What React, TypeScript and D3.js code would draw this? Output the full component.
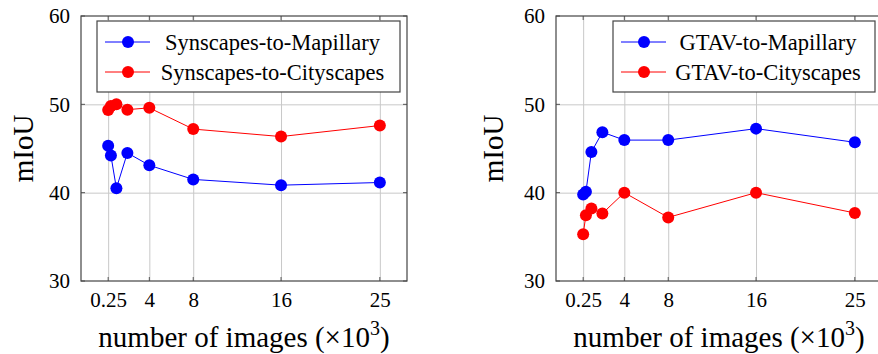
import { useRef, useEffect } from "react";
import * as d3 from "d3";

const xValues = [0.25, 0.5, 1, 2, 4, 8, 16, 25];
const xTicks = [0.25, 4, 8, 16, 25];
const yTicks = [30, 40, 50, 60];

const synMapillary = [45.3, 44.2, 40.5, 44.5, 43.1, 41.5, 40.85, 41.15];
const synCityscapes = [49.35, 49.8, 50.0, 49.4, 49.6, 47.2, 46.35, 47.6];
const gtaMapillary = [39.8, 40.1, 44.6, 46.85, 45.95, 45.95, 47.25, 45.7];
const gtaCityscapes = [35.3, 37.45, 38.2, 37.65, 40.0, 37.2, 40.0, 37.7];

const panels = [
  {
    left: 81,
    ylabelX: 33,
    series: [
      { name: "Synscapes-to-Mapillary", color: "#0000ff", values: synMapillary },
      { name: "Synscapes-to-Cityscapes", color: "#ff0000", values: synCityscapes },
    ],
    legend: { x: 97, w: 303 },
  },
  {
    left: 556,
    ylabelX: 503,
    series: [
      { name: "GTAV-to-Mapillary", color: "#0000ff", values: gtaMapillary },
      { name: "GTAV-to-Cityscapes", color: "#ff0000", values: gtaCityscapes },
    ],
    legend: { x: 613, w: 262 },
  },
];

const FONT = "Liberation Serif, DejaVu Serif, serif";

export default function App() {
  const svgRef = useRef<SVGSVGElement>(null);

  useEffect(() => {
    if (!svgRef.current) return;
    const svg = d3.select(svgRef.current);
    svg.selectAll("*").remove();

    const top = 16;
    const bottom = 281;
    const innerW = 326;

    const y = d3.scaleLinear().domain([30, 60]).range([bottom, top]);

    panels.forEach((p) => {
      const x = d3
        .scaleLinear()
        .domain([-2.225, 27.475])
        .range([p.left, p.left + innerW]);
      const g = svg.append("g");

      // Grid
      g.append("g")
        .attr("transform", `translate(0,${bottom})`)
        .call(d3.axisBottom(x).tickValues(xTicks).tickSize(-(bottom - top)).tickFormat(() => ""))
        .call((g) => g.select(".domain").remove())
        .call((g) => g.selectAll(".tick line").attr("stroke", "#c8c8c8").attr("stroke-width", 1));
      g.append("g")
        .attr("transform", `translate(${p.left},0)`)
        .call(d3.axisLeft(y).tickValues([40, 50]).tickSize(-innerW).tickFormat(() => ""))
        .call((g) => g.select(".domain").remove())
        .call((g) => g.selectAll(".tick line").attr("stroke", "#c8c8c8").attr("stroke-width", 1));

      // inner tick marks
      const tk = g.append("g").attr("stroke", "#555").attr("stroke-width", 1);
      xTicks.forEach((t) => {
        tk.append("line").attr("x1", x(t)).attr("x2", x(t)).attr("y1", bottom).attr("y2", bottom - 4);
        tk.append("line").attr("x1", x(t)).attr("x2", x(t)).attr("y1", top).attr("y2", top + 4);
      });
      yTicks.forEach((t) => {
        tk.append("line").attr("x1", p.left).attr("x2", p.left + 4).attr("y1", y(t)).attr("y2", y(t));
        tk.append("line").attr("x1", p.left + innerW).attr("x2", p.left + innerW - 4).attr("y1", y(t)).attr("y2", y(t));
      });

      // X tick labels
      g.append("g")
        .attr("transform", `translate(0,${bottom})`)
        .call(d3.axisBottom(x).tickValues(xTicks).tickSize(0).tickPadding(11).tickFormat((d) => String(d)))
        .call((g) => g.select(".domain").remove())
        .call((g) =>
          g.selectAll(".tick text").attr("fill", "#000").style("font-size", "21px").style("font-family", FONT)
        );

      // Y tick labels
      g.append("g")
        .attr("transform", `translate(${p.left},0)`)
        .call(d3.axisLeft(y).tickValues(yTicks).tickSize(0).tickPadding(11))
        .call((g) => g.select(".domain").remove())
        .call((g) =>
          g.selectAll(".tick text").attr("fill", "#000").style("font-size", "21px").style("font-family", FONT)
        );

      // Series
      const line = d3
        .line<number>()
        .x((_, i) => x(xValues[i]))
        .y((d) => y(d));
      p.series.forEach((s) => {
        g.append("path")
          .datum(s.values)
          .attr("fill", "none")
          .attr("stroke", s.color)
          .attr("stroke-width", 1)
          .attr("d", line);
        g.selectAll(null)
          .data(s.values)
          .enter()
          .append("circle")
          .attr("cx", (_, i) => x(xValues[i]))
          .attr("cy", (d) => y(d))
          .attr("r", 6)
          .attr("fill", s.color);
      });

      // Axis box
      g.append("rect")
        .attr("x", p.left)
        .attr("y", top)
        .attr("width", innerW)
        .attr("height", bottom - top)
        .attr("fill", "none")
        .attr("stroke", "#444")
        .attr("stroke-width", 1.2);

      // Legend
      const lg = g.append("g");
      lg.append("rect")
        .attr("x", p.legend.x)
        .attr("y", 21)
        .attr("width", p.legend.w)
        .attr("height", 71)
        .attr("fill", "#fff")
        .attr("stroke", "#444")
        .attr("stroke-width", 1.2);
      p.series.forEach((s, i) => {
        const ly = 42 + i * 30;
        const lx = p.legend.x;
        lg.append("line")
          .attr("x1", lx + 8)
          .attr("x2", lx + 53)
          .attr("y1", ly)
          .attr("y2", ly)
          .attr("stroke", s.color)
          .attr("stroke-width", 1);
        lg.append("circle").attr("cx", lx + 31).attr("cy", ly).attr("r", 6).attr("fill", s.color);
        lg.append("text")
          .attr("x", (lx + 60 + lx + p.legend.w - 12) / 2)
          .attr("y", ly)
          .attr("dy", "0.35em")
          .attr("text-anchor", "middle")
          .style("font-size", "22.5px")
          .style("font-family", FONT)
          .text(s.name);
      });

      // Axis labels
      const xl = g
        .append("text")
        .attr("x", p.left + innerW / 2)
        .attr("y", 347)
        .attr("text-anchor", "middle")
        .style("font-size", "29px")
        .style("font-family", FONT);
      xl.append("tspan").text("number of images (\u00d710");
      xl.append("tspan").attr("dy", -12).style("font-size", "20px").text("3");
      xl.append("tspan").attr("dy", 12).text(")");

      g.append("text")
        .attr("transform", `translate(${p.ylabelX},${(top + bottom) / 2}) rotate(-90)`)
        .attr("text-anchor", "middle")
        .style("font-size", "29px")
        .style("font-family", FONT)
        .text("mIoU");
    });
  }, []);

  return (
    <svg
      ref={svgRef}
      width={878}
      height={354}
      style={{ position: "absolute", left: 0, top: 0, background: "#fff" }}
    />
  );
}
